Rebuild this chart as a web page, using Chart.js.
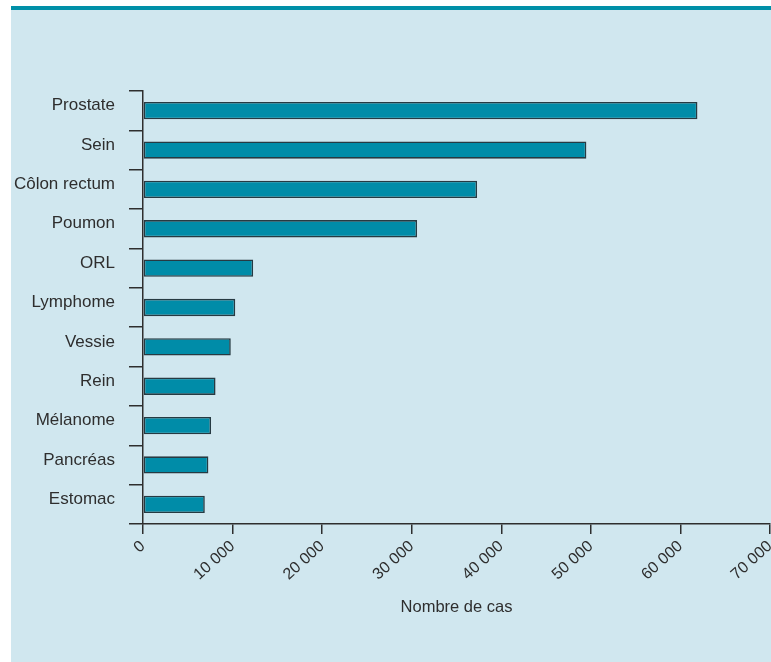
<!DOCTYPE html>
<html>
<head>
<meta charset="utf-8">
<script src="https://cdn.jsdelivr.net/npm/chart.js@4"></script>
<style>
  html, body { margin: 0; padding: 0; background: #fff; }
  #wrap { width: 771px; height: 662px; }
</style>
</head>
<body>
<div id="wrap"><canvas id="chart" width="771" height="662"></canvas></div>
<script>
const categories = ['Prostate', 'Sein', 'Côlon rectum', 'Poumon', 'ORL', 'Lymphome', 'Vessie', 'Rein', 'Mélanome', 'Pancréas', 'Estomac'];
const cases = [61900, 49500, 37300, 30600, 12300, 10300, 9800, 8100, 7600, 7300, 6900];
const xTicks = [0, 10000, 20000, 30000, 40000, 50000, 60000, 70000];

const FONT = '"Liberation Sans", Arial, sans-serif';
const INK = '#2e2e2e';

// panel background + teal top rule
const panel = {
  id: 'panel',
  beforeDraw(chart) {
    const c = chart.ctx;
    c.save();
    c.fillStyle = '#ffffff';
    c.fillRect(0, 0, chart.width, chart.height);
    c.fillStyle = '#d0e7ef';
    c.fillRect(11, 9, chart.width - 11, chart.height - 9);
    c.fillStyle = '#0090a8';
    c.fillRect(11, 6, chart.width - 11, 4);
    c.restore();
  }
};

const fmt = v => String(v).replace(/\B(?=(\d{3})+(?!\d))/g, ' ');

new Chart(document.getElementById('chart'), {
  type: 'bar',
  data: {
    labels: categories,
    datasets: [{
      data: cases,
      backgroundColor: '#008ca8',
      borderColor: '#263a42',
      borderWidth: 1.6,
      borderSkipped: false,
      barPercentage: 0.44,
      categoryPercentage: 1
    }]
  },
  options: {
    indexAxis: 'y',
    responsive: false,
    animation: false,
    layout: { padding: { top: 91, right: 1, bottom: 43, left: 0 } },
    plugins: { legend: { display: false }, tooltip: { enabled: false } },
    scales: {
      y: {
        offset: true,
        grid: { offset: true, drawOnChartArea: false, drawTicks: true, tickLength: 14, color: INK, lineWidth: 1.5 },
        border: { display: true, color: INK, width: 1.5 },
        ticks: { color: INK, padding: 14, labelOffset: -5, font: { family: FONT, size: 17 } },
        afterFit: s => { s.width = 143; }
      },
      x: {
        min: 0,
        max: 70000,
        afterBuildTicks: s => { s.ticks = xTicks.map(v => ({ value: v })); },
        grid: { drawOnChartArea: false, drawTicks: true, tickLength: 10, color: INK, lineWidth: 1.5 },
        border: { display: true, color: INK, width: 1.5 },
        ticks: {
          color: INK, padding: 3, autoSkip: false,
          minRotation: 42, maxRotation: 42,
          font: { family: FONT, size: 16 },
          callback: v => fmt(v)
        },
        title: {
          display: true, text: 'Nombre de cas', color: INK,
          font: { family: FONT, size: 16.5 },
          padding: { top: 4, bottom: 2 }
        },
        afterFit: s => { s.height = 95; s.paddingLeft = 0; s.paddingRight = 0; }
      }
    }
  },
  plugins: [panel]
});
</script>
</body>
</html>
